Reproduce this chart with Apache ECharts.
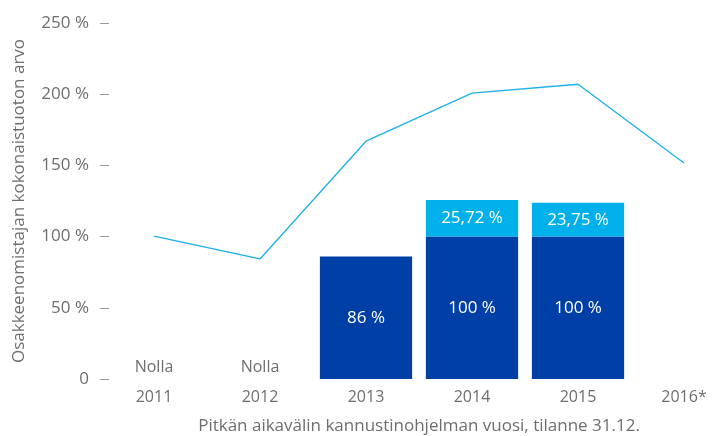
<!DOCTYPE html>
<html>
<head>
<meta charset="utf-8">
<script src="https://cdn.jsdelivr.net/npm/echarts@6/dist/echarts.min.js"></script>
<style>
  html, body { margin: 0; padding: 0; background: #fff; }
  #chart { width: 728px; height: 436px; }
</style>
</head>
<body>
<div id="chart"></div>
<script>
const years = ["2011", "2012", "2013", "2014", "2015", "2016*"];
const baseShare = [null, null, 86, 100, 100, null];
const extraShare = [null, null, null, 25.72, 23.75, null];
const zeroMarks = [0, 0, null, null, null, null];
const tsrValue = [100.4, 84.3, 167, 200.8, 207, 151.7];

const grey = "#6e6e6e";
const font = "Open Sans";

const fmt = (v) => String(v).replace(".", ",") + " %";

const chart = echarts.init(document.getElementById("chart"));

const option = {
  animation: false,
  grid: { left: 101, right: -9, top: 23, bottom: 57, outerBoundsMode: "none" },
  xAxis: {
    type: "category",
    data: years,
    axisLine: { show: false },
    axisTick: { show: false },
    axisLabel: { color: grey, fontSize: 16, fontFamily: font, margin: 10 },
    name: "Pitkän aikavälin kannustinohjelman vuosi, tilanne 31.12.",
    nameLocation: "middle",
    nameGap: 39,
    nameTextStyle: { color: grey, fontSize: 17, fontFamily: font }
  },
  yAxis: {
    type: "value",
    min: 0,
    max: 250,
    interval: 50,
    offset: -8,
    splitLine: { show: false },
    axisLine: { show: false },
    axisTick: { show: true, length: 9, lineStyle: { color: "#9a9a9a" } },
    axisLabel: {
      color: grey, fontSize: 17, fontFamily: font, margin: 20,
      padding: [0, 0, 10, 0],
      formatter: (v) => (v === 0 ? "0" : v + " %")
    },
    name: "Osakkeenomistajan kokonaistuoton arvo",
    nameLocation: "middle",
    nameGap: 81,
    nameTextStyle: { color: grey, fontSize: 17, fontFamily: font }
  },
  series: [
    {
      type: "bar",
      stack: "osuus",
      data: baseShare,
      barWidth: "87%",
      itemStyle: { color: "#0040a6" },
      label: {
        show: true, position: "inside", color: "#fff", fontSize: 17,
        fontFamily: font, formatter: (p) => fmt(p.value)
      }
    },
    {
      type: "bar",
      stack: "osuus",
      data: extraShare,
      itemStyle: { color: "#00b0ea" },
      label: {
        show: true, position: "inside", color: "#fff", fontSize: 17,
        fontFamily: font, formatter: (p) => fmt(p.value)
      }
    },
    {
      type: "scatter",
      data: zeroMarks,
      symbolSize: 1,
      itemStyle: { color: "rgba(0,0,0,0)", opacity: 1 },
      label: {
        show: true, position: "top", distance: 3, color: grey, fontSize: 16,
        fontFamily: font, formatter: "Nolla"
      }
    },
    {
      type: "line",
      data: tsrValue,
      symbol: "none",
      lineStyle: { color: "#1ab0e8", width: 1.3 }
    }
  ]
};

chart.setOption(option);
</script>
</body>
</html>
